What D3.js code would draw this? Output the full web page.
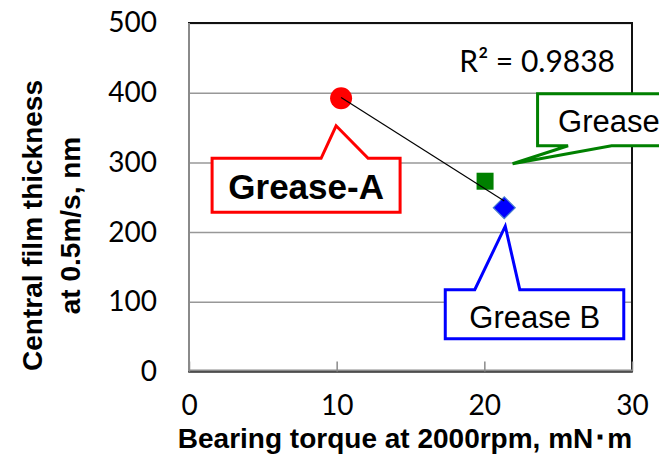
<!DOCTYPE html>
<html>
<head>
<meta charset="utf-8">
<script src="https://cdn.jsdelivr.net/npm/d3@7"></script>
<style>
  body { margin: 0; background: #fff; }
  svg { display: block; }
</style>
</head>
<body>
<svg width="659" height="475"></svg>
<script>
// data
var names = ["Grease-A", "Grease C", "Grease B"];
var torque = [10.3, 20.05, 21.35];     // mN·m
var film = [392, 273, 235];             // nm
var xTicks = [0, 10, 20, 30];
var yTicks = [0, 100, 200, 300, 400, 500];
var r2Label = "R\u00b2 = 0.9838";
var xTitle = "Bearing torque at 2000rpm, mN\uff65m";
var yTitle = ["Central film thickness", "at 0.5m/s, nm"];

var svg = d3.select("svg"),
    margin = {top: 23, right: 27, bottom: 103.5, left: 189},
    width = svg.attr("width") - margin.left - margin.right,
    height = svg.attr("height") - margin.top - margin.bottom,
    g = svg.append("g").attr("transform", "translate(" + margin.left + "," + margin.top + ")");

var x = d3.scaleLinear().domain([0, 30]).range([0, width]),
    y = d3.scaleLinear().domain([0, 500]).range([height, 0]);

// marker + callout styling, offsets in px from the marker
var style = [
  {color: "#ff0000", shape: "circle", bold: true, size: 35, notch: "top",
   box: [-129, 60, 59, 114], base: [-20, 27], tip: [-5, 27.5], text: [-35, 101], anchor: "middle"},
  {color: "#008000", shape: "square", bold: false, size: 31, notch: "bottom",
   box: [52.5, -87.5, 230, -35.5], base: [83, 126.5], tip: [27.5, -17.5], text: [73, -49.5], anchor: "start"},
  {color: "#0000ff", shape: "diamond", bold: false, size: 31, notch: "top",
   box: [-59, 82, 119.5, 131], base: [-29.5, 15.5], tip: [1, 18.5], text: [30.5, 120.5], anchor: "middle"}
];

var pts = names.map(function(n, i) {
  return {name: n, x: torque[i], y: film[i], s: style[i]};
});

// gridlines
g.append("g")
    .attr("class", "grid")
    .call(d3.axisLeft(y).tickValues(yTicks).tickSize(-width).tickFormat(""))
  .call(function(s) { s.select(".domain").remove(); })
  .selectAll("line")
    .attr("stroke", "#989898")
    .attr("stroke-width", 1.5);

// plot frame
g.append("rect")
    .attr("width", width)
    .attr("height", height)
    .attr("fill", "none")
    .attr("stroke", "#111")
    .attr("stroke-width", 2);

// axes (gray lines on left / bottom)
g.append("line")
    .attr("x1", 0).attr("x2", 0).attr("y1", 0).attr("y2", height)
    .attr("stroke", "#8a8a8a").attr("stroke-width", 2);
g.append("line")
    .attr("x1", 0).attr("x2", width).attr("y1", height - 1).attr("y2", height - 1)
    .attr("stroke", "#8a8a8a").attr("stroke-width", 2);

var xAxis = g.append("g")
    .attr("transform", "translate(0," + height + ")")
    .call(d3.axisBottom(x).tickValues(xTicks).tickSize(-10).tickPadding(24));
xAxis.select(".domain").remove();
xAxis.selectAll("line").attr("stroke", "#8a8a8a").attr("stroke-width", 1.5);
xAxis.selectAll("text")
    .attr("fill", "#000")
    .style("font", "28px Lato, 'Open Sans', sans-serif");

var yAxis = g.append("g")
    .call(d3.axisLeft(y).tickValues(yTicks).tickSize(0).tickPadding(32));
yAxis.select(".domain").remove();
yAxis.selectAll("text")
    .attr("fill", "#000")
    .style("font", "28px Lato, 'Open Sans', sans-serif");

// markers
var sym = {circle: d3.symbolCircle, square: d3.symbolSquare, diamond: d3.symbolSquare};
g.selectAll(".pt")
    .data(pts)
  .enter().append("path")
    .attr("class", "pt")
    .attr("transform", function(d) {
      return "translate(" + x(d.x) + "," + y(d.y) + ")" + (d.s.shape == "diamond" ? " rotate(45)" : "");
    })
    .attr("d", function(d) {
      var area = d.s.shape == "circle" ? Math.PI * 11 * 11 : d.s.shape == "square" ? 17 * 17 : 15.5 * 15.5;
      return d3.symbol().type(sym[d.s.shape]).size(area)();
    })
    .attr("fill", function(d) { return d.s.color; })
    .attr("stroke", function(d) { return d.s.shape == "diamond" ? "#4a7fd0" : "none"; })
    .attr("stroke-width", 1.2);

// linear trendline (least squares)
var mx = d3.mean(torque), my = d3.mean(film);
var sxy = d3.sum(torque, function(v, i) { return (v - mx) * (film[i] - my); });
var sxx = d3.sum(torque, function(v) { return (v - mx) * (v - mx); });
var slope = sxy / sxx, icpt = my - slope * mx;
var ext = d3.extent(torque);
g.append("path")
    .datum(ext.map(function(v) { return [v, icpt + slope * v]; }))
    .attr("fill", "none")
    .attr("stroke", "#000")
    .attr("stroke-width", 1.2)
    .attr("d", d3.line().x(function(d) { return x(d[0]); }).y(function(d) { return y(d[1]); }));

g.append("text")
    .attr("x", 615 - margin.left)
    .attr("y", 72 - margin.top)
    .attr("text-anchor", "end")
    .style("font", "30px Lato, 'Open Sans', sans-serif")
    .text(r2Label);

// callouts
var call = g.selectAll(".callout")
    .data(pts)
  .enter().append("g")
    .attr("class", "callout")
    .attr("transform", function(d) { return "translate(" + x(d.x) + "," + y(d.y) + ")"; });

call.append("path")
    .attr("d", function(d) {
      var b = d.s.box, p = d3.path();
      if (d.s.notch == "top") {
        p.moveTo(b[0], b[1]);
        p.lineTo(d.s.base[0], b[1]);
        p.lineTo(d.s.tip[0], d.s.tip[1]);
        p.lineTo(d.s.base[1], b[1]);
        p.lineTo(b[2], b[1]);
        p.lineTo(b[2], b[3]);
        p.lineTo(b[0], b[3]);
      } else {
        p.moveTo(b[0], b[1]);
        p.lineTo(b[2], b[1]);
        p.lineTo(b[2], b[3]);
        p.lineTo(d.s.base[1], b[3]);
        p.lineTo(d.s.tip[0], d.s.tip[1]);
        p.lineTo(d.s.base[0], b[3]);
        p.lineTo(b[0], b[3]);
      }
      p.closePath();
      return p.toString();
    })
    .attr("fill", "#fff")
    .attr("stroke", function(d) { return d.s.color; })
    .attr("stroke-width", 3)
    .attr("stroke-linejoin", "miter");

call.append("text")
    .attr("x", function(d) { return d.s.text[0]; })
    .attr("y", function(d) { return d.s.text[1]; })
    .attr("text-anchor", function(d) { return d.s.anchor; })
    .style("font-family", "'Liberation Sans', Arial, sans-serif")
    .style("font-size", function(d) { return d.s.size + "px"; })
    .style("font-weight", function(d) { return d.s.bold ? "bold" : "normal"; })
    .text(function(d) { return d.name; });

// axis titles
svg.append("text")
    .attr("x", 405)
    .attr("y", 448)
    .attr("text-anchor", "middle")
    .style("font", "bold 28px 'Liberation Sans', Arial, sans-serif")
    .text(xTitle);

svg.append("g")
    .attr("transform", "translate(0,225.5) rotate(-90)")
  .selectAll("text")
    .data(yTitle)
  .enter().append("text")
    .attr("x", 0)
    .attr("y", function(d, i) { return i == 0 ? 41.5 : 80; })
    .attr("text-anchor", "middle")
    .style("font", "bold 28px 'Liberation Sans', Arial, sans-serif")
    .text(function(d) { return d; });
</script>
</body>
</html>
